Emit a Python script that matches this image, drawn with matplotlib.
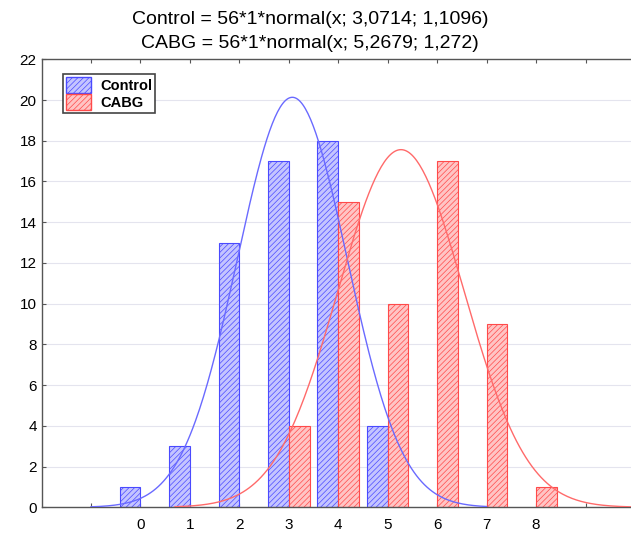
import numpy as np
import matplotlib.pyplot as plt
from matplotlib.patches import Patch

plt.rcParams['font.family'] = ['Liberation Sans', 'DejaVu Sans']
plt.rcParams['hatch.linewidth'] = 0.5

# datos
grupos = ['Control', 'CABG']
x_control = [0, 1, 2, 3, 4, 5]
n_control = [1, 3, 13, 17, 18, 4]
x_cabg = [3, 4, 5, 6, 7, 8]
n_cabg = [4, 15, 10, 17, 9, 1]

# parámetros de la normal ajustada (del título)
N = 56
media_control, sd_control = 3.0714, 1.1096
media_cabg, sd_cabg = 5.2679, 1.272
rango_control = (-1, 7)
rango_cabg = (0.7, 10)

titulo = ['Control = 56*1*normal(x; 3,0714; 1,1096)',
          'CABG = 56*1*normal(x; 5,2679; 1,272)']


def normal(x, m, s):
    return np.exp(-0.5 * ((x - m) / s) ** 2) / (s * np.sqrt(2 * np.pi))


azul, azul_fill = '#4a4aff', '#c4c4ff'
rojo, rojo_fill = '#ff4a4a', '#ffc4c4'

fig = plt.figure(figsize=(6.31, 5.33), dpi=100)
ax = fig.add_axes([41.5 / 631, 25.7 / 533, 593.5 / 631, 448 / 533])

ancho = 0.42
ax.bar(x_control, n_control, width=-ancho, align='edge', color=azul_fill,
       edgecolor=azul, hatch='//////', linewidth=0.8, zorder=2)
ax.bar(x_cabg, n_cabg, width=ancho, align='edge', color=rojo_fill,
       edgecolor=rojo, hatch='//////', linewidth=0.8, zorder=2)

xc = np.linspace(rango_control[0], rango_control[1], 300)
xr = np.linspace(rango_cabg[0], rango_cabg[1], 300)
ax.plot(xc, N * normal(xc, media_control, sd_control), color='#6a6aff', lw=1.0, zorder=3)
ax.plot(xr, N * normal(xr, media_cabg, sd_cabg), color='#ff6a6a', lw=1.0, zorder=3)

ax.set_xlim(-2, 10)
ax.set_ylim(0, 22)
ax.set_yticks(range(0, 23, 2))
ax.set_xticks(range(-1, 10))
ax.set_xticklabels([''] + [str(i) for i in range(0, 9)] + [''])
ax.tick_params(axis='both', labelsize=11, direction='in', length=3, color='#555555',
               top=True)
ax.tick_params(axis='x', pad=8)
ax.grid(axis='y', color='#e4e4ee', lw=0.8, zorder=0)
for s in ax.spines.values():
    s.set_color('#555555')
    s.set_linewidth(1.0)

# título a mano para controlar la posición de cada línea
fig.text(310 / 631, 1 - 20 / 533, titulo[0], ha='center', va='center', fontsize=14)
fig.text(310 / 631, 1 - 43 / 533, titulo[1], ha='center', va='center', fontsize=14)

handles = [Patch(facecolor=azul_fill, edgecolor=azul, hatch='//////'),
           Patch(facecolor=rojo_fill, edgecolor=rojo, hatch='//////')]
leg = ax.legend(handles, grupos, loc='upper left', bbox_to_anchor=(0.036, 0.967),
                fancybox=False, framealpha=1, edgecolor='#444444',
                prop={'weight': 'bold', 'size': 10.5}, handlelength=1.75,
                handleheight=1.3, borderpad=0.2, labelspacing=0.1,
                handletextpad=0.6, borderaxespad=0)
leg.get_frame().set_linewidth(1.2)

fig.savefig('out.png', dpi=100)
